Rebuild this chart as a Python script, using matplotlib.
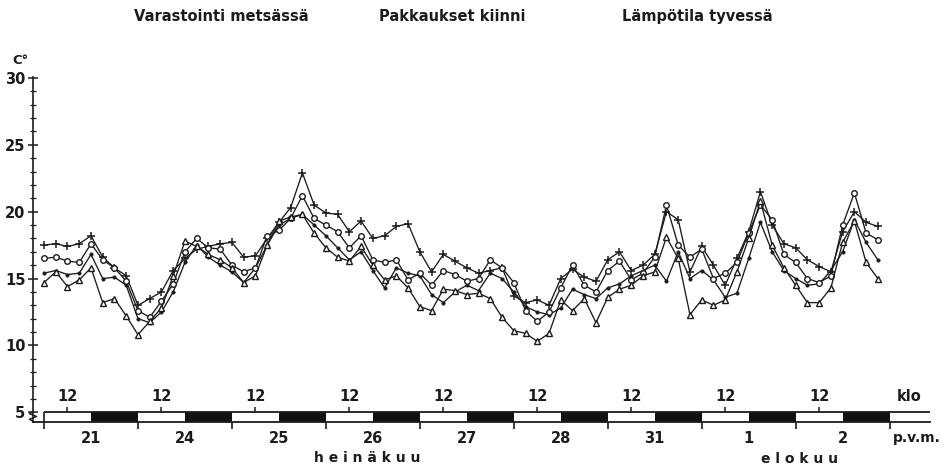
import numpy as np
import matplotlib.pyplot as plt

# Mittausajat: tunteja klo 6.00 (21.7.) alkaen, 3 h välein
hours = np.arange(0, 216, 3)

# Lämpötilat (C°), luettu kuvasta
plus_vals = [17.5, 17.6, 17.4, 17.6, 18.2, 16.6, 15.8, 15.2, 13.0, 13.5, 14.0, 15.6,
             16.5, 17.2, 17.4, 17.6, 17.7, 16.6, 16.7, 18.0, 19.2, 20.3, 22.9, 20.5,
             19.9, 19.8, 18.5, 19.3, 18.0, 18.2, 18.9, 19.1, 17.0, 15.5, 16.8, 16.3,
             15.8, 15.4, 15.6, 15.8, 13.7, 13.2, 13.4, 13.0, 15.0, 15.7, 15.1, 14.8,
             16.4, 17.0, 15.6, 16.0, 16.8, 20.0, 19.4, 15.5, 17.4, 16.0, 14.5, 16.5,
             18.5, 21.5, 19.0, 17.6, 17.3, 16.4, 15.9, 15.5, 18.5, 20.0, 19.2, 18.9]
circle_vals = [16.5, 16.6, 16.3, 16.2, 17.6, 16.4, 15.8, 14.8, 12.6, 12.1, 13.3, 14.6,
               17.0, 18.0, 17.3, 17.2, 16.0, 15.5, 15.8, 18.2, 18.6, 19.5, 21.2, 19.5,
               19.0, 18.5, 17.3, 18.2, 16.4, 16.2, 16.4, 14.9, 15.4, 14.5, 15.6, 15.3,
               14.8, 15.0, 16.4, 15.8, 14.7, 12.6, 11.8, 12.5, 14.3, 16.0, 14.5, 14.0,
               15.6, 16.3, 14.9, 15.4, 16.6, 20.5, 17.5, 16.6, 17.2, 15.0, 15.4, 16.2,
               18.4, 20.5, 19.4, 16.8, 16.2, 15.0, 14.7, 15.2, 19.0, 21.4, 18.4, 17.9]
dot_vals = [15.4, 15.6, 15.3, 15.4, 16.8, 15.0, 15.1, 14.5, 12.0, 11.7, 12.5, 14.0,
            16.2, 17.5, 16.6, 16.0, 15.5, 14.7, 15.8, 17.5, 19.0, 19.5, 19.8, 19.0,
            18.2, 17.3, 16.4, 17.0, 15.6, 14.3, 15.8, 15.4, 15.2, 13.8, 13.2, 14.0,
            14.5, 14.1, 15.4, 15.0, 14.0, 12.9, 12.5, 12.3, 12.8, 14.2, 13.8, 13.5,
            14.3, 14.6, 15.2, 15.6, 16.0, 14.8, 17.0, 15.0, 15.6, 14.9, 13.6, 13.9,
            16.5, 19.2, 17.0, 15.6, 15.0, 14.5, 14.6, 15.6, 17.0, 19.4, 17.7, 16.4]
tri_vals = [14.7, 15.5, 14.4, 14.9, 15.8, 13.2, 13.5, 12.2, 10.8, 11.8, 12.8, 15.2,
            17.8, 17.4, 16.8, 16.4, 15.8, 14.7, 15.2, 17.5, 19.3, 19.6, 19.8, 18.4,
            17.3, 16.6, 16.3, 17.4, 16.0, 14.9, 15.2, 14.3, 12.9, 12.6, 14.2, 14.1,
            13.8, 13.9, 13.5, 12.1, 11.1, 10.9, 10.3, 10.9, 13.4, 12.6, 13.5, 11.7,
            13.6, 14.2, 14.5, 15.2, 15.5, 18.1, 16.5, 12.3, 13.4, 13.0, 13.4, 15.5,
            18.0, 20.8, 17.5, 15.8, 14.5, 13.2, 13.2, 14.3, 17.7, 19.3, 16.2, 15.0]

day_labels = ['21', '24', '25', '26', '27', '28', '31', '1', '2']

ink = '#1b1b1b'
bold = dict(fontweight='bold', color=ink)

fig = plt.figure(figsize=(9.46, 4.74), dpi=100)
ax = fig.add_axes([0.0349, 0.1097, 0.9482, 0.7286])

x = hours / 24.0
ax.plot(x, plus_vals, '-', color=ink, lw=0.95, marker='+', ms=6, mew=1.1)
ax.plot(x, dot_vals, '-', color=ink, lw=0.95, marker='o', ms=2.4, mfc=ink, mew=0.5)
ax.plot(x, circle_vals, '-', color=ink, lw=0.95, marker='o', ms=4, mfc='white', mew=1.0)
ax.plot(x, tri_vals, '-', color=ink, lw=0.95, marker='^', ms=4.8, mfc='white', mew=1.0)

# vuorokausipalkki: valkoinen = päivä, musta = yö
bar_lo, bar_hi = 4.27, 5.0
n_days = len(day_labels)
for k in range(n_days):
    ax.fill_between([k, k + 0.5], bar_lo, bar_hi, color='white', lw=0)
    ax.fill_between([k + 0.5, k + 1], bar_lo, bar_hi, color='#111111', lw=0)
    ax.vlines(k + 0.25, bar_hi, bar_hi + 0.42, color=ink, lw=1.1)
    ax.text(k + 0.25, 5.62, '12', ha='center', va='bottom', fontsize=10.5, **bold)
ax.hlines(bar_hi, 0, 9.43, color=ink, lw=1.3, clip_on=False)
ax.vlines(0, bar_lo, bar_hi, color=ink, lw=1.2)

ax.text(9.21, 5.62, 'klo', ha='center', va='bottom', fontsize=10.5, **bold)
ax.text(9.29, 3.62, 'p.v.m.', ha='center', va='top', fontsize=10, **bold)
ax.text(3.44, 1.58, 'h e i n ä k u u', ha='center', va='center', fontsize=10, **bold)
ax.text(8.04, 1.50, 'e l o k u u', ha='center', va='center', fontsize=10, **bold)

ax.set_xlim(-0.117, 9.43)
ax.set_ylim(bar_lo, 30.1)

ax.set_xticks(np.arange(0, n_days + 1))
ax.set_xticklabels([])
ax.set_xticks(np.arange(n_days) + 0.5, minor=True)
ax.set_xticklabels(day_labels, minor=True, fontsize=10.5, fontweight='bold', color=ink)
ax.tick_params(axis='x', which='major', direction='out', length=5, width=1.2, color=ink)
ax.tick_params(axis='x', which='minor', length=0, pad=6.5)

ax.set_yticks([5, 10, 15, 20, 25, 30])
ax.set_yticklabels(['5', '10', '15', '20', '25', '30'], fontsize=10.5, fontweight='bold', color=ink)
ax.set_yticks(np.arange(5, 31, 1), minor=True)
ax.tick_params(axis='y', which='major', direction='inout', length=7, width=1.1, color=ink, pad=2)
ax.tick_params(axis='y', which='minor', direction='inout', length=5, width=0.9, color=ink)

for side in ['top', 'right']:
    ax.spines[side].set_visible(False)
ax.spines['left'].set_color(ink)
ax.spines['bottom'].set_color(ink)
ax.spines['left'].set_linewidth(1.2)
ax.spines['bottom'].set_linewidth(1.3)

# akselin katkos
ax.plot([0.0, -0.004, 0.004, -0.004, 0.0], [0.03, 0.024, 0.016, 0.008, 0.002],
        transform=ax.transAxes, color=ink, lw=1.0, clip_on=False)

fig.text(0.022, 0.872, 'C°', fontsize=9.5, ha='center', va='center', **bold)
fig.text(0.234, 0.965, 'Varastointi metsässä', fontsize=10.5, ha='center', va='center', **bold)
fig.text(0.478, 0.965, 'Pakkaukset kiinni', fontsize=10.5, ha='center', va='center', **bold)
fig.text(0.737, 0.965, 'Lämpötila tyvessä', fontsize=10.5, ha='center', va='center', **bold)

fig.savefig('out.png', dpi=100, facecolor='white')
